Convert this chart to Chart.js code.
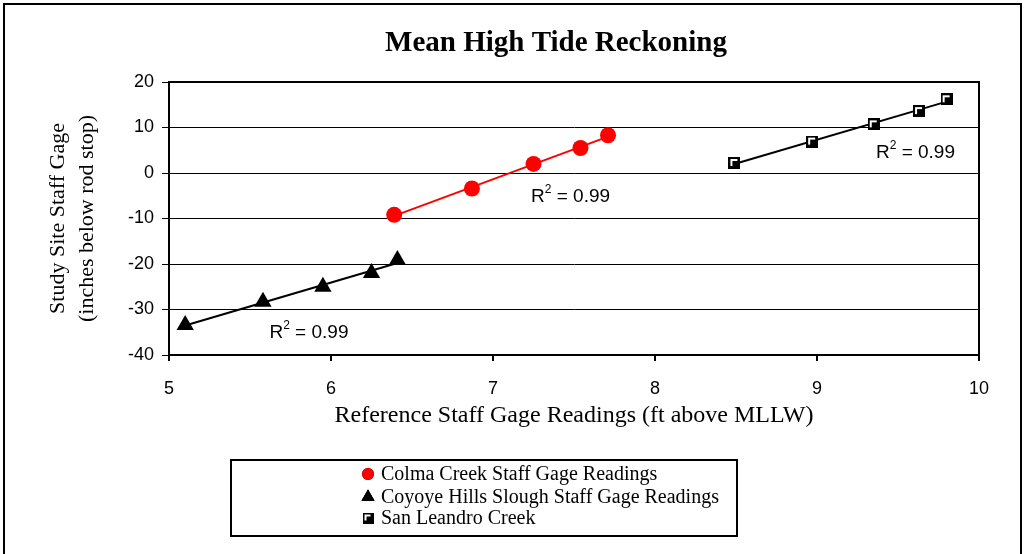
<!DOCTYPE html>
<html>
<head>
<meta charset="utf-8">
<script src="https://cdn.jsdelivr.net/npm/chart.js@4.4.1/dist/chart.umd.min.js"></script>
<style>
  html, body { margin: 0; padding: 0; background: #fff; }
  canvas { display: block; }
</style>
</head>
<body>
<canvas id="myChart" width="1025" height="554"></canvas>
<script>
// data
const colmaX = [6.39, 6.87, 7.25, 7.54, 7.71];
const colmaY = [-9.2, -3.4, 2.0, 5.5, 8.3];
const coyoteX = [5.10, 5.58, 5.95, 6.25, 6.41];
const coyoteY = [-33.4, -28.3, -25.0, -22.0, -19.1];
const sanX = [8.49, 8.97, 9.35, 9.63, 9.80];
const sanY = [2.2, 6.9, 10.7, 13.6, 16.2];
const seriesLabels = ['Colma Creek Staff Gage Readings', 'Coyoye Hills Slough Staff Gage Readings', 'San Leandro Creek'];
const rSquared = ['0.99', '0.99', '0.99'];
const xTicks = [5, 6, 7, 8, 9, 10];
const yTicks = [20, 10, 0, -10, -20, -30, -40];

const serif = '"Liberation Serif", "Times New Roman", serif';
const sans = '"Liberation Sans", Arial, sans-serif';

// where the R² labels sit (data coords of left edge / middle)
const r2Anchors = [{x: 7.235, y: -5.3}, {x: 5.62, y: -35.2}, {x: 9.364, y: 4.4}];

function toPoints(xs, ys) {
    return xs.map((x, i) => ({x: x, y: ys[i]}));
}

// linear trendline through a series, from first to last x
function trend(xs, ys) {
    const n = xs.length;
    const mx = xs.reduce((a, b) => a + b, 0) / n;
    const my = ys.reduce((a, b) => a + b, 0) / n;
    let sxy = 0, sxx = 0;
    for (let i = 0; i < n; i++) {
        sxy += (xs[i] - mx) * (ys[i] - my);
        sxx += (xs[i] - mx) * (xs[i] - mx);
    }
    const m = sxy / sxx;
    const b = my - m * mx;
    const x0 = Math.min(...xs), x1 = Math.max(...xs);
    return [{x: x0, y: m * x0 + b}, {x: x1, y: m * x1 + b}];
}

// Excel-ish square marker: black with a white inner corner
function squareMarker(size) {
    const c = document.createElement('canvas');
    c.width = size; c.height = size;
    const g = c.getContext('2d');
    g.fillStyle = '#000';
    g.fillRect(0, 0, size, size);
    g.fillStyle = '#fff';
    g.fillRect(2, 2, size - 5, 2);
    g.fillRect(2, 2, 2, size - 5);
    return c;
}
const sqBig = squareMarker(12);
const sqLegend = squareMarker(11);

const markerStyles = [
    {pointStyle: 'circle', radius: 8, color: '#ff0000'},
    {pointStyle: 'triangle', radius: 10, color: '#000'},
    {pointStyle: sqBig, radius: 6, color: '#000'}
];
const legendStyles = ['circle', 'triangle', sqLegend];

const framePlugin = {
    id: 'frame',
    beforeDraw(chart) {
        const ctx = chart.ctx;
        ctx.save();
        ctx.fillStyle = '#fff';
        ctx.fillRect(0, 0, chart.width, chart.height);
        ctx.restore();
    },
    afterDraw(chart) {
        const ctx = chart.ctx;
        const a = chart.chartArea;
        ctx.save();
        // outer chart border
        ctx.strokeStyle = '#000';
        ctx.lineWidth = 2;
        ctx.strokeRect(4, 4, chart.width - 8, chart.height + 10);
        // plot area box
        ctx.strokeRect(a.left, a.top, a.right - a.left, a.bottom - a.top);

        // title
        ctx.fillStyle = '#000';
        ctx.font = 'bold 29px ' + serif;
        ctx.textAlign = 'center';
        ctx.textBaseline = 'middle';
        ctx.fillText('Mean High Tide Reckoning', 556, 44);

        // R² labels
        const xs = chart.scales.x, ys = chart.scales.y;
        r2Anchors.forEach((p, i) => {
            let px = xs.getPixelForValue(p.x);
            const py = ys.getPixelForValue(p.y);
            ctx.textAlign = 'left';
            ctx.textBaseline = 'middle';
            ctx.font = '19px ' + sans;
            ctx.fillText('R', px, py);
            px += ctx.measureText('R').width;
            ctx.font = '12px ' + sans;
            ctx.fillText('2', px, py - 7);
            px += ctx.measureText('2').width;
            ctx.font = '19px ' + sans;
            ctx.fillText(' = ' + rSquared[i], px, py);
        });

        // legend
        const box = {left: 231, top: 460, right: 737, bottom: 536};
        ctx.strokeRect(box.left, box.top, box.right - box.left, box.bottom - box.top);
        const rows = [474, 497, 518];
        ctx.font = '20px ' + serif;
        ctx.textAlign = 'left';
        ctx.textBaseline = 'middle';
        seriesLabels.forEach((label, i) => {
            const st = markerStyles[i];
            Chart.helpers.drawPoint(ctx, {
                pointStyle: legendStyles[i],
                radius: i === 1 ? 7.5 : 6,
                borderWidth: 0,
                rotation: 0
            }, 368, rows[i]);
            ctx.fillStyle = st.color;
            ctx.fill();
            ctx.fillStyle = '#000';
            ctx.fillText(label, 381, rows[i] + 1);
        });
        ctx.restore();
    }
};

const pointSets = [toPoints(colmaX, colmaY), toPoints(coyoteX, coyoteY), toPoints(sanX, sanY)];
const trendSets = [trend(colmaX, colmaY), trend(coyoteX, coyoteY), trend(sanX, sanY)];
const trendColors = ['#ff0000', '#000', '#000'];

const datasets = [];
pointSets.forEach((pts, i) => {
    const st = markerStyles[i];
    datasets.push({
        label: seriesLabels[i],
        data: pts,
        showLine: false,
        pointStyle: st.pointStyle,
        pointRadius: st.radius,
        pointHoverRadius: st.radius,
        pointBackgroundColor: st.color,
        pointBorderColor: st.color,
        pointBorderWidth: 0,
        order: 1
    });
});
trendSets.forEach((pts, i) => {
    datasets.push({
        label: 'trend' + i,
        data: pts,
        showLine: true,
        borderColor: trendColors[i],
        borderWidth: 2,
        pointRadius: 0,
        order: 2
    });
});

const myChart = new Chart(document.getElementById('myChart'), {
    type: 'scatter',
    data: {datasets: datasets},
    options: {
        responsive: false,
        animation: false,
        devicePixelRatio: 1,
        layout: {padding: {left: 40, top: 82, right: 46, bottom: 124}},
        plugins: {
            legend: {display: false},
            tooltip: {enabled: false}
        },
        scales: {
            x: {
                type: 'linear',
                min: 5,
                max: 10,
                afterFit: s => { s.height = 75; },
                afterBuildTicks: s => { s.ticks = xTicks.map(v => ({value: v})); },
                grid: {drawOnChartArea: false, drawTicks: true, tickLength: 6, color: '#000', lineWidth: 2},
                border: {display: true, color: '#000', width: 2},
                ticks: {color: '#000', font: {family: sans, size: 18}, padding: 17},
                title: {
                    display: true,
                    text: 'Reference Staff Gage Readings (ft above MLLW)',
                    color: '#000',
                    font: {family: serif, size: 24, lineHeight: 1.2},
                    padding: {top: 0, bottom: 0}
                }
            },
            y: {
                type: 'linear',
                min: -40,
                max: 20,
                afterFit: s => { s.width = 129; },
                afterBuildTicks: s => { s.ticks = yTicks.map(v => ({value: v})); },
                grid: {drawTicks: true, tickLength: 7, color: '#000', lineWidth: 1},
                border: {display: true, color: '#000', width: 2},
                ticks: {color: '#000', font: {family: sans, size: 18}, padding: 8},
                title: {
                    display: true,
                    text: ['Study Site Staff Gage', '(inches below rod stop)'],
                    color: '#000',
                    font: {family: serif, size: 22, lineHeight: 1.32},
                    padding: {top: 4, bottom: 0}
                }
            }
        }
    },
    plugins: [framePlugin]
});
</script>
</body>
</html>
